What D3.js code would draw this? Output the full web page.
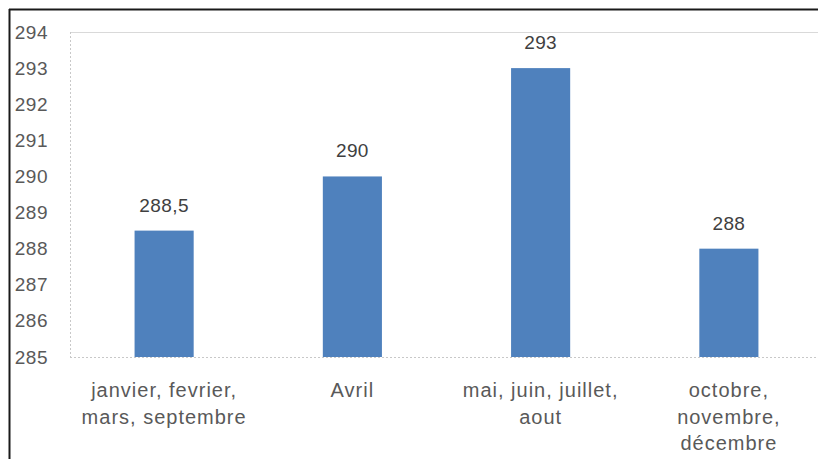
<!DOCTYPE html>
<html>
<head>
<meta charset="utf-8">
<style>
body { margin:0; background:#ffffff; }
svg { display:block; font-family:"Liberation Sans", Arial, sans-serif; }
</style>
<script src="https://d3js.org/d3.v7.min.js"></script>
</head>
<body>
<svg id="chart" width="818" height="459"></svg>
<script>
// data
var categories = [["janvier, fevrier,", "mars, septembre"], ["Avril"], ["mai, juin, juillet,", "aout"], ["octobre,", "novembre,", "décembre"]];
var values = [288.5, 290, 293, 288];
var valueLabels = ["288,5", "290", "293", "288"];
var yTicks = [285, 286, 287, 288, 289, 290, 291, 292, 293, 294];

var svg = d3.select("#chart");

var x = d3.scaleBand().domain(d3.range(categories.length)).range([70, 823]).paddingInner(0.686).paddingOuter(0.343);
var y = d3.scaleLinear().domain([285, 294]).range([357, 32]);

// outer frame (only top and left visible)
svg.append("line").attr("x1", 9).attr("x2", 818).attr("y1", 9.5).attr("y2", 9.5).attr("stroke", "#1a1a1a").attr("stroke-width", 2);
svg.append("line").attr("x1", 9.5).attr("x2", 9.5).attr("y1", 9).attr("y2", 459).attr("stroke", "#1a1a1a").attr("stroke-width", 2);

// plot area border
svg.append("line").attr("x1", 70).attr("x2", 818).attr("y1", 32.5).attr("y2", 32.5).attr("stroke", "#d9d9d9");
svg.append("line").attr("x1", 70.5).attr("x2", 70.5).attr("y1", 32).attr("y2", 357).attr("stroke", "#c8c8c8").attr("stroke-dasharray", "2,2");

// y axis
var yAxis = d3.axisLeft(y).tickValues(yTicks).tickSize(0).tickPadding(0);
var gy = svg.append("g").attr("transform", "translate(48,0)").call(yAxis);
gy.select(".domain").remove();
gy.selectAll("text").attr("fill", "#595959").style("font-size", "19px").style("font-family", "Liberation Sans, Arial, sans-serif").style("letter-spacing", "0.5px");

// bars
svg.selectAll("rect.bar").data(values).enter().append("rect")
  .attr("class", "bar")
  .attr("x", function(d, i) { return x(i); })
  .attr("y", function(d) { return y(d); })
  .attr("width", x.bandwidth())
  .attr("height", function(d) { return y(285) - y(d); })
  .attr("fill", "#4f81bd");

// bottom axis line
svg.append("line").attr("x1", 70).attr("x2", 818).attr("y1", 357.5).attr("y2", 357.5).attr("stroke", "#c8c8c8").attr("stroke-dasharray", "2,2");

// value labels
svg.selectAll("text.val").data(values).enter().append("text")
  .attr("class", "val")
  .attr("x", function(d, i) { return x(i) + x.bandwidth() / 2; })
  .attr("y", function(d) { return y(d) - 19; })
  .attr("text-anchor", "middle")
  .attr("fill", "#404040")
  .style("font-size", "19px")
  .style("letter-spacing", "0.4px")
  .text(function(d, i) { return valueLabels[i]; });

// category labels
var cat = svg.selectAll("text.cat").data(categories).enter().append("text")
  .attr("class", "cat")
  .attr("text-anchor", "middle")
  .attr("fill", "#595959")
  .style("font-size", "20px")
  .style("letter-spacing", "1px");
cat.each(function(lines, i) {
  var t = d3.select(this);
  lines.forEach(function(s, j) {
    t.append("tspan").attr("x", x(i) + x.bandwidth() / 2).attr("y", 397 + j * 26.5).text(s);
  });
});
</script>
</body>
</html>
